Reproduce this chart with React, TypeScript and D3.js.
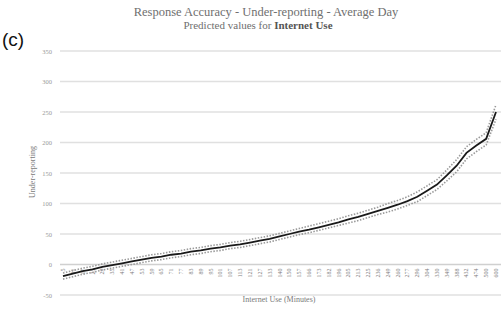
import { useEffect, useRef } from "react";
import * as d3 from "d3";

// minutes (category axis)
const minutes = [
  5, 11, 17, 23, 29, 35, 41, 47, 53, 59, 65, 71, 77, 83, 89, 95, 101, 107,
  113, 121, 127, 133, 140, 150, 157, 166, 173, 182, 196, 205, 213, 225, 236,
  249, 260, 277, 296, 304, 330, 349, 388, 432, 474, 500, 600,
];

// predicted under-reporting
const predicted = [
  -19, -15, -11, -8, -4, -1, 2, 5, 8, 11, 13, 16, 18, 21, 23, 26, 28, 31, 33,
  36, 39, 42, 46, 50, 54, 57, 61, 65, 69, 74, 78, 83, 88, 93, 98, 104, 111,
  121, 131, 146, 162, 183, 195, 206, 250,
];

// confidence bounds
const upper = [
  -14, -10, -6, -3, 1, 4, 7, 10, 13, 16, 18, 21, 23, 26, 28, 31, 33, 36, 38,
  41, 44, 47, 51, 55, 59, 63, 67, 71, 75, 80, 84, 89, 94, 100, 105, 111, 119,
  129, 139, 155, 172, 193, 205, 216, 262,
];
const lower = [
  -24, -20, -16, -13, -9, -6, -3, 0, 3, 6, 8, 11, 13, 16, 18, 21, 23, 26, 28,
  31, 34, 37, 41, 45, 49, 52, 56, 60, 64, 68, 72, 77, 82, 86, 91, 97, 103,
  113, 123, 137, 152, 173, 185, 196, 238,
];

const yTicks = [-50, 0, 50, 100, 150, 200, 250, 300, 350];

const App = () => {
  const svgRef = useRef<SVGSVGElement | null>(null);

  useEffect(() => {
    if (!svgRef.current) return;
    const width = 501;
    const height = 312;
    const svg = d3.select(svgRef.current);
    svg.selectAll("*").remove();
    svg.attr("width", width).attr("height", height);

    const serif = "'Liberation Serif', 'Times New Roman', serif";

    const x = d3
      .scalePoint<string>()
      .domain(minutes.map(String))
      .range([63, 496]);
    const y = d3.scaleLinear().domain([-50, 350]).range([295, 51]);

    // gridlines
    svg
      .append("g")
      .selectAll("line")
      .data(yTicks)
      .enter()
      .append("line")
      .attr("x1", 60)
      .attr("x2", width)
      .attr("y1", (d) => y(d))
      .attr("y2", (d) => y(d))
      .attr("stroke", (d) => (d === 0 ? "#d0d0d0" : "#e0e0e0"))
      .attr("stroke-width", 1.3);

    // y tick labels
    svg
      .append("g")
      .selectAll("text")
      .data(yTicks)
      .enter()
      .append("text")
      .attr("x", 52)
      .attr("y", (d) => y(d) + 2.5)
      .attr("text-anchor", "end")
      .attr("font-family", serif)
      .attr("font-size", 6.5)
      .attr("fill", "#999")
      .text((d) => d);

    // x tick labels (vertical)
    svg
      .append("g")
      .selectAll("text")
      .data(minutes)
      .enter()
      .append("text")
      .attr(
        "transform",
        (d) => `translate(${(x(String(d)) as number) + 2},${y(0) + 4}) rotate(-90)`
      )
      .attr("text-anchor", "end")
      .attr("font-family", serif)
      .attr("font-size", 6)
      .attr("fill", "#7d7d7d")
      .text((d) => d);

    const line = (vals: number[]) =>
      d3
        .line<number>()
        .x((_, i) => x(String(minutes[i])) as number)
        .y((d) => y(d))(vals);

    const plot = svg.append("g");
    [upper, lower].forEach((band) => {
      plot
        .append("path")
        .attr("d", line(band))
        .attr("fill", "none")
        .attr("stroke", "#9a9a9a")
        .attr("stroke-width", 1.6)
        .attr("stroke-dasharray", "1.5,1.5");
    });
    plot
      .append("path")
      .attr("d", line(predicted))
      .attr("fill", "none")
      .attr("stroke", "#1a1a1a")
      .attr("stroke-width", 1.8);

    // titles
    svg
      .append("text")
      .attr("x", 266)
      .attr("y", 16)
      .attr("text-anchor", "middle")
      .attr("font-family", serif)
      .attr("font-size", 12.5)
      .attr("fill", "#6f6f6f")
      .text("Response Accuracy - Under-reporting - Average Day");

    const sub = svg
      .append("text")
      .attr("x", 258)
      .attr("y", 29)
      .attr("text-anchor", "middle")
      .attr("font-family", serif)
      .attr("font-size", 11)
      .attr("fill", "#6f6f6f");
    sub.append("tspan").text("Predicted values for ");
    sub
      .append("tspan")
      .attr("font-weight", "bold")
      .attr("fill", "#555")
      .text("Internet Use");

    svg
      .append("text")
      .attr("x", 2)
      .attr("y", 46)
      .attr("font-family", "'Liberation Sans', Arial, sans-serif")
      .attr("font-size", 19)
      .attr("fill", "#111")
      .text("(c)");

    svg
      .append("text")
      .attr("transform", `translate(35,172) rotate(-90)`)
      .attr("text-anchor", "middle")
      .attr("font-family", serif)
      .attr("font-size", 8)
      .attr("fill", "#7a7a7a")
      .text("Under-reporting");

    svg
      .append("text")
      .attr("x", 279)
      .attr("y", 302)
      .attr("text-anchor", "middle")
      .attr("font-family", serif)
      .attr("font-size", 8)
      .attr("fill", "#7a7a7a")
      .text("Internet Use (Minutes)");
  }, []);

  return (
    <div style={{ position: "absolute", left: 0, top: 0 }}>
      <svg ref={svgRef} style={{ display: "block" }}></svg>
    </div>
  );
};

export default App;
